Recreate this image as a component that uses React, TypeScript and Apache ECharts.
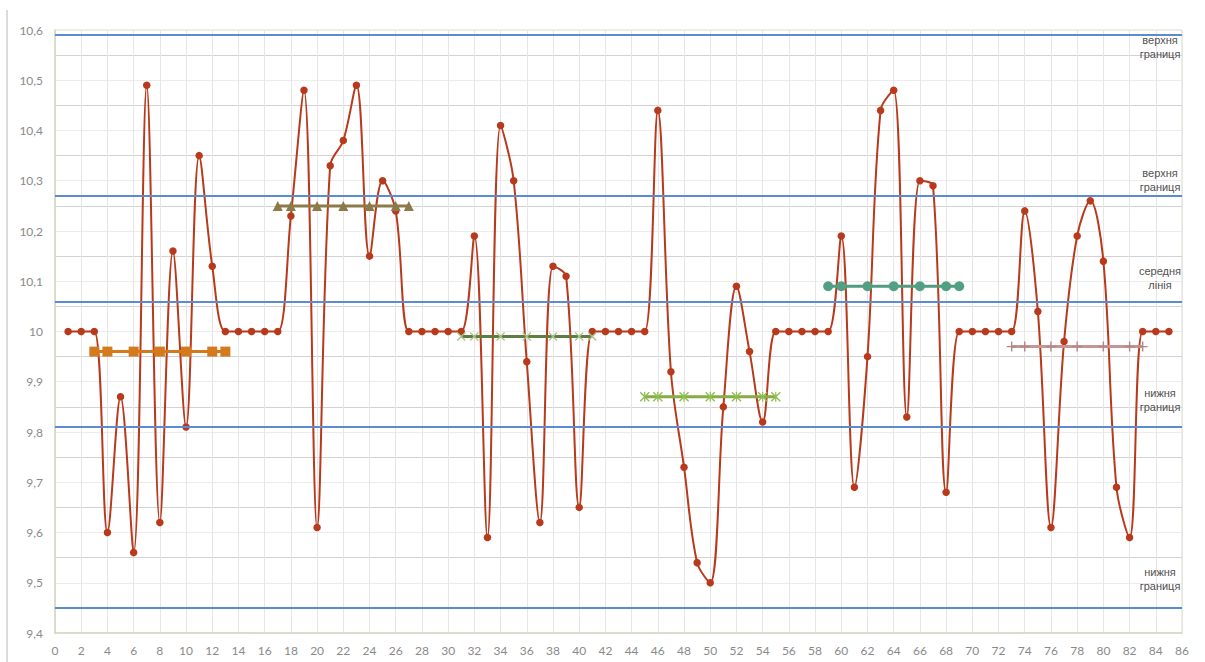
import React, { useEffect, useRef } from 'react';
import * as echarts from 'echarts';

const xPositions = Array.from({ length: 85 }, (_, i) => i + 1);
const measured = [
  10, 10, 10, 9.6, 9.87, 9.56, 10.49, 9.62, 10.16, 9.81, 10.35, 10.13,
  10, 10, 10, 10, 10,
  10.23, 10.48, 9.61, 10.33, 10.38, 10.49, 10.15, 10.3, 10.24,
  10, 10, 10, 10, 10,
  10.19, 9.59, 10.41, 10.3, 9.94, 9.62, 10.13, 10.11, 9.65,
  10, 10, 10, 10, 10,
  10.44, 9.92, 9.73, 9.54, 9.5, 9.85, 10.09, 9.96, 9.82,
  10, 10, 10, 10, 10,
  10.19, 9.69, 9.95, 10.44, 10.48, 9.83, 10.3, 10.29, 9.68,
  10, 10, 10, 10, 10,
  10.24, 10.04, 9.61, 9.98, 10.19, 10.26, 10.14, 9.69, 9.59,
  10, 10, 10,
];

const limitValues = [10.594, 10.268, 10.059, 9.808, 9.45];
const limitLabels = ['верхня\nграниця', 'верхня\nграниця', 'середня\nлінія', 'нижня\nграниця', 'нижня\nграниця'];

const mean1X = [3, 4, 6, 8, 10, 12, 13];
const mean1Y = 9.96;
const mean2X = [17, 18, 20, 22, 24, 26, 27];
const mean2Y = 10.25;
const mean3X = [31, 32, 34, 36, 38, 40, 41];
const mean3Y = 9.99;
const mean4X = [45, 46, 48, 50, 52, 54, 55];
const mean4Y = 9.87;
const mean5X = [59, 60, 62, 64, 66, 68, 69];
const mean5Y = 10.09;
const mean6X = [73, 74, 76, 78, 80, 82, 83];
const mean6Y = 9.97;

const xSymbol = 'path://M1,0L5,4L9,0L10,1L6,5L10,9L9,10L5,6L1,10L0,9L4,5L0,1Z';
const starSymbol = 'path://M1,0L5,4L9,0L10,1L6,5L10,9L9,10L5,6L1,10L0,9L4,5L0,1ZM4.4,0L5.6,0L5.6,10L4.4,10Z';
const plusSymbol = 'path://M4.3,0L5.7,0L5.7,4.3L10,4.3L10,5.7L5.7,5.7L5.7,10L4.3,10L4.3,5.7L0,5.7L0,4.3L4.3,4.3Z';

const labelOffsets = [14, -17, -24, -28, -29];

function flatSeries(xs: number[], y: number, lineColor: string, markColor: string, symbol: string, size: number) {
  return {
    type: 'line',
    data: xs.map((x) => [x, y]),
    symbol,
    symbolSize: size,
    symbolKeepAspect: true,
    lineStyle: { color: lineColor, width: 3 },
    itemStyle: { color: markColor },
    z: 4,
  };
}

export default function App() {
  const ref = useRef<HTMLDivElement>(null);
  useEffect(() => {
    if (!ref.current) return;
    const chart = echarts.init(ref.current, undefined, { renderer: 'svg' });
    const axisFont = { color: '#8a8a8a', fontFamily: 'Lato', fontSize: 12 };
    chart.setOption({
      animation: false,
      backgroundColor: '#ffffff',
      grid: { left: 55, right: 23, top: 30, bottom: 29, show: true, borderColor: '#dcdcc6', borderWidth: 1 },
      xAxis: {
        type: 'value', min: 0, max: 86, interval: 2,
        axisLine: { lineStyle: { color: '#d6d6c0', width: 1.5 } },
        axisTick: { show: false },
        axisLabel: { ...axisFont, margin: 11 },
        splitLine: { show: true, lineStyle: { color: '#e6e6e6', width: 1 } },
      },
      yAxis: {
        type: 'value', min: 9.4, max: 10.6, interval: 0.05,
        axisLine: { show: true, lineStyle: { color: '#d6d6c0', width: 1.5 } },
        axisTick: { show: false },
        axisLabel: {
          ...axisFont, margin: 12,
          formatter: (v: number) => (Math.round(v * 100) % 10 === 0 ? String(Math.round(v * 10) / 10).replace('.', ',') : ''),
        },
        splitLine: { show: true, lineStyle: { color: ['#ececec', '#d2d2d2'], width: 1.2 } },
      },
      series: [
        {
          type: 'line', data: [], z: 1,
          markLine: {
            silent: true, symbol: 'none', label: { show: false },
            lineStyle: { color: '#5b8bd0', width: 2, type: 'solid' },
            data: limitValues.map((v) => ({ yAxis: v })),
          },
        },
        {
          type: 'line',
          data: xPositions.map((x, i) => [x, measured[i]]),
          smooth: 0.35,
          symbol: 'circle', symbolSize: 7.5,
          lineStyle: { color: '#b8391b', width: 2 },
          itemStyle: { color: '#b8391b' },
          z: 3,
        },
        flatSeries(mean1X, mean1Y, '#d27a1c', '#d27a1c', 'rect', 10),
        flatSeries(mean2X, mean2Y, '#8c7a4a', '#8c7a4a', 'triangle', 10),
        flatSeries(mean3X, mean3Y, '#5f7d3e', '#a8c48a', xSymbol, 9),
        flatSeries(mean4X, mean4Y, '#86ad45', '#8fbf50', starSymbol, 10),
        flatSeries(mean5X, mean5Y, '#4f9c7f', '#52a083', 'circle', 10),
        flatSeries(mean6X, mean6Y, '#c49696', '#b58585', plusSymbol, 10),
      ],
    });
    const graphics: any[] = limitValues.map((v, i) => {
      const py = chart.convertToPixel({ yAxisIndex: 0 }, v) as number;
      return {
        type: 'text', x: 1160, y: py + labelOffsets[i],
        style: {
          text: limitLabels[i], textAlign: 'center', textVerticalAlign: 'middle',
          fill: '#505050', fontFamily: 'Liberation Sans', fontSize: 11, lineHeight: 14,
        },
        z: 10,
      };
    });
    graphics.push({ type: 'line', shape: { x1: 7, y1: 10, x2: 7, y2: 662 }, style: { stroke: '#cfcfcf', lineWidth: 1.5 } });
    chart.setOption({ graphic: graphics });
    return () => chart.dispose();
  }, []);
  return <div ref={ref} style={{ position: 'fixed', left: 0, top: 0, width: 1205, height: 662 }} />;
}
